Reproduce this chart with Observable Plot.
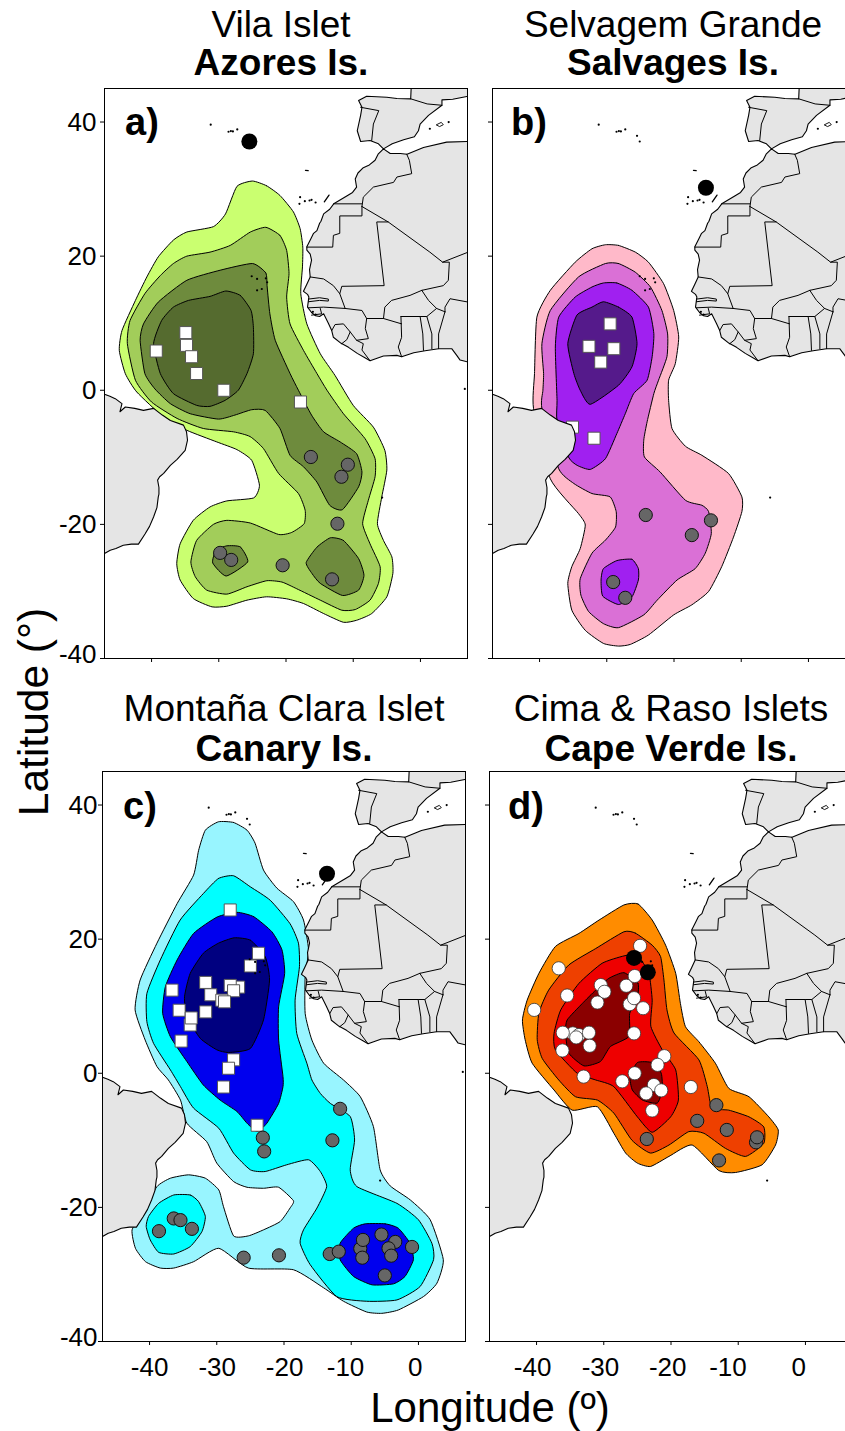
<!DOCTYPE html>
<html>
<head>
<meta charset="utf-8">
<script src="https://cdn.jsdelivr.net/npm/d3@7"></script>
<script src="https://cdn.jsdelivr.net/npm/@observablehq/plot@0.6"></script>
<style>
html,body{margin:0;padding:0;background:#fff;}
body{position:relative;width:845px;height:1431px;overflow:hidden;font-family:"Liberation Sans",Arial,sans-serif;color:#000;}
.t{position:absolute;white-space:nowrap;transform:translateX(-50%);font-size:37px;line-height:40px;}
.b{font-weight:bold;}
.p{position:absolute;font-weight:bold;font-size:38px;line-height:40px;}
svg{position:absolute;max-width:none!important;overflow:visible;}
</style>
</head>
<body>
<div id="root"></div>
<script>
// ---------- Base map (lon, lat) ----------
const africa=[[-5.5,36],[-6.3,35.2],[-6.75,34.3],[-7.6,33.6],[-8.5,33.2],[-9.3,32.4],[-9.7,31.5],[-9.5,30.3],[-10.1,29.5],[-10.9,29],[-12.9,27.8],[-13.5,27],[-14.4,26.3],[-14.8,25.2],[-15,24.9],[-15.4,23.8],[-15.9,23.4],[-16.3,22.6],[-16.9,21.4],[-16.9,20.9],[-16.4,20.3],[-16.2,19.4],[-16.5,18],[-16.4,16.9],[-16.9,15.8],[-17.4,14.75],[-16.8,14.3],[-16.6,13.9],[-16.8,12.4],[-16.2,11.6],[-15.6,11.1],[-15,11],[-14.4,11.4],[-13.7,10],[-13.2,8.9],[-12.95,7.9],[-11.8,7],[-10.7,6.4],[-9.4,5.5],[-8,4.7],[-7.5,4.4],[-5.5,5.1],[-3.5,5.2],[-2.8,5],[-1,5.6],[0.7,5.9],[2.7,6.2],[4.65,6.2],[5.4,5.2],[5.9,4.5],[7.1,4.2],[9,4],[9,38],[7.1,37.1],[3.9,37],[0.45,36.2],[-2,35.2],[-3,35.3],[-4.5,35.3]];
const iberia=[[-1.3,47],[-1.45,43.46],[-3.5,43.5],[-5,43.7],[-8,43.85],[-9.2,43.2],[-8.7,42.2],[-8.9,41],[-9.4,38.7],[-8.9,37.1],[-7.5,37.25],[-6.25,36.75],[-5.5,36],[-4.2,36.75],[-2.5,37.35],[-0.9,37.8],[-0.3,38.7],[-0.05,39.7],[1.2,41],[3.2,42.5],[3.2,43.3],[4.8,43.4],[6.9,43.8],[9,44],[9,47]];
const brazil=[[-49,-0.2],[-47,-0.6],[-46.2,-0.9],[-45.4,-1.25],[-44.4,-2],[-44.7,-3.2],[-43.9,-2.5],[-42.5,-2.7],[-41.2,-3],[-39.7,-2.7],[-38.4,-3.7],[-37.2,-4.5],[-35.25,-5.2],[-34.8,-6.2],[-34.65,-7.45],[-35,-8.95],[-36.2,-10.3],[-37.2,-11.2],[-38.2,-12.4],[-38.8,-12.9],[-39.1,-13.4],[-38.9,-14.5],[-38.9,-15.5],[-39,-15.9],[-39.2,-17.5],[-39.7,-18.9],[-40.3,-20.3],[-40.95,-21.4],[-41.95,-22.95],[-43,-22.95],[-44.2,-23.1],[-45.3,-23.6],[-46.15,-23.85],[-47,-24.35],[-49,-25.5]];
const borders=[
 [[-12.9,27.8],[-8.7,27.8]],
 [[-2.04,35.2],[-1.65,34.3],[-1.3,32.3],[-3.5,31.8],[-4,31],[-7,30.3],[-8.5,28.8],[-8.7,27.4]],
 [[-8.7,27.4],[-8.7,26],[-12,26],[-12,23.4],[-12.95,23.1],[-13.05,21.35],[-16.9,21.35]],
 [[-8.7,27.4],[-4.8,25.1],[1.4,20.6],[3.3,19.1],[7.1,20.6]],
 [[-4.8,25.1],[-6.5,25.1],[-5.4,15.6],[-11.7,15.5],[-12,14.4],[-11.2,12.2]],
 [[-16.4,16.9],[-14.4,16.6],[-12.95,15.6],[-12,14.4]],
 [[-11.2,12.2],[-14.4,12.4],[-16.65,12.3]],
 [[-16.65,13.6],[-15,13.8],[-13.7,13.6],[-13.7,13.3],[-15,13.4],[-16.65,13.2]],
 [[-14.9,12.2],[-14.7,11.4],[-16.2,11.2]],
 [[-11.2,12.2],[-8.7,11.9],[-8,10.7],[-8.2,9.2],[-7.75,7.7],[-9.5,7.45],[-10.45,8.7]],
 [[-13.2,8.9],[-12.7,9.8],[-11.45,9.9],[-10.45,8.7],[-10.95,7.55],[-11.7,6.95]],
 [[-9.5,7.45],[-8.5,6.95],[-8.7,6],[-7.5,4.4]],
 [[-8,10.7],[-5.5,10.7],[-2.8,9.9]],
 [[-5.5,10.7],[-5.3,12.4],[-4.3,13.4],[-1.55,14.15],[0.2,14.9]],
 [[-2.9,11],[-2.8,7.9],[-3.3,6.45],[-2.8,5]],
 [[-2.9,11],[-0.05,11],[0.95,11],[2.4,12.2],[3.65,11.7]],
 [[-0.05,11],[0.35,8.4],[0.45,5.95]],
 [[0.95,11],[1.7,8.4],[1.7,6.2]],
 [[0.2,14.9],[1.2,13.4],[2.4,12.2]],
 [[3.3,19.1],[4.3,19.1],[4.15,16.4],[3.4,15.6],[0.2,14.9]],
 [[3.65,11.7],[2.7,8.4],[2.7,6.2]],
 [[3.65,11.7],[3.65,12.4],[4.4,13.65],[7.1,13.15]],
 [[-8.9,42.2],[-6.2,41.7],[-7,39.7],[-7.25,37.25]],
 [[-1.45,43.46],[1,42.7],[3.2,42.5]]
];
const mallorca=[[2.4,39.6],[3.1,39.95],[3.4,39.6],[2.9,39.35]];
const fuerteventura=[[-14.3,28.1],[-13.6,29.1]];
const madeira=[[-17.1,32.8],[-16.7,32.75]];
const islands=[[-31.2,39.6],[-28.55,38.55],[-28.2,38.65],[-27.9,38.6],[-27.25,38.9],[-25.5,37.95],[-25.1,37.1],[-17.9,28.8],[-18,27.8],[-17.2,28.2],[-16.5,28.3],[-16.2,28.4],[-15.6,28],[-25.1,17],[-24.3,16.6],[-22.8,16.1],[-24.3,14.9],[-23.6,15.1],[-23,16.7],[-5.7,-16],[6.6,0.2],[1.4,39],[4.2,40],[-16,11.7],[-15.6,11.3]];

// ---------- a) Vila Islet ----------
const a1=[[-25,31.2],[-22.9,30.5],[-20.9,29.05],[-18.9,26.6],[-17.9,24.1],[-17.5,21.35],[-17.55,18.4],[-17.8,14.4],[-16.9,9.9],[-14.9,5.45],[-12.7,2.2],[-10,-2.25],[-7,-5.5],[-5.3,-8.95],[-5,-11.9],[-5.75,-15.9],[-6.4,-19.9],[-5.5,-22.4],[-4.25,-24.85],[-4.1,-27.3],[-5,-30.8],[-7.25,-33.3],[-9.5,-34.3],[-11.45,-34.6],[-14.4,-33.3],[-17.4,-31.8],[-19.9,-31.1],[-22.9,-30.8],[-25.8,-31.3],[-28.8,-32.2],[-31,-32.3],[-33.8,-31.05],[-35.75,-28.3],[-36.25,-25.85],[-35.75,-22.9],[-33.8,-19.4],[-31.3,-17.4],[-28.8,-16.5],[-24.8,-16.05],[-23.95,-14.15],[-25.1,-10.45],[-27.3,-8.85],[-30.3,-7.7],[-34.75,-5.97],[-38.2,-4],[-42.2,-0.26],[-43.9,2.47],[-44.8,5.95],[-44.4,8.9],[-42.4,13.4],[-40.7,16.9],[-39,19.9],[-36.75,22.4],[-34.75,23.6],[-30.8,24.4],[-29,26.3],[-27.3,30.4]];
const a2=[[-23,24.3],[-20.9,23.1],[-19.9,20.85],[-19.55,17.4],[-19.9,13.9],[-19.4,9.9],[-17.4,5.95],[-15.4,2.5],[-13.9,0],[-11.45,-3.5],[-8.25,-7.2],[-6.75,-10.2],[-6.75,-12.9],[-7.75,-16.4],[-8.6,-19.9],[-7.5,-22.9],[-6,-26.3],[-6.25,-28.8],[-7.5,-31.3],[-9.7,-32.7],[-11.7,-32.8],[-14.9,-31.3],[-18.4,-29.6],[-20.6,-28.6],[-22.85,-28.4],[-25.8,-29.3],[-28.8,-30.4],[-31.8,-29.8],[-33.5,-27.8],[-34.15,-25.6],[-33.3,-22.4],[-30.8,-20],[-28.8,-19.4],[-25.3,-19.8],[-21.1,-21.5],[-19.15,-21.2],[-17.3,-19.9],[-17.15,-17.9],[-18.15,-15.4],[-21.1,-12.4],[-23.35,-8.7],[-25.35,-6.9],[-27.8,-6.2],[-32.3,-5.7],[-36.2,-4.2],[-40,-1.75],[-42.4,1.5],[-43.6,6.95],[-43.2,10.4],[-41,14.4],[-38.7,17.1],[-36.75,18.9],[-34.75,20],[-31.3,20.6],[-28.3,21.6],[-25.3,23.6]];
const a3=[[-25,18.9],[-23,17.5],[-22.8,15.4],[-22.4,11.4],[-21.6,7.45],[-19.4,2.5],[-18.15,0],[-16.2,-3.7],[-14.4,-6.2],[-11.95,-7.7],[-9.5,-9.45],[-8.7,-12.2],[-9.2,-14.4],[-11.6,-17.8],[-13.5,-17.15],[-15.4,-13.7],[-17.4,-11.4],[-19.4,-9.7],[-20.9,-5.7],[-23.1,-3],[-25.1,-2.9],[-27.6,-3.7],[-30.05,-4.3],[-34.25,-3.5],[-37.2,-2],[-39.5,0.2],[-41,2.5],[-41.7,7.45],[-41.2,9.9],[-39,13.15],[-34.75,16.4],[-29.8,17.9]];
const a3b=[[-28.8,-23.2],[-26.8,-23.35],[-25.7,-25.6],[-28.9,-27.7],[-30.9,-25.75],[-30.4,-23.85]];
const a3c=[[-13.4,-22],[-11.45,-22.4],[-9.2,-25.1],[-8.4,-27.6],[-9.2,-29.8],[-11.6,-30.6],[-14.9,-28.8],[-16.15,-27.3],[-17,-25.7],[-15.4,-23.4]];
const a4=[[-28.95,14.8],[-26.8,14.15],[-25.2,11.9],[-24.85,9.4],[-24.85,5.45],[-25.8,2.5],[-27.1,0],[-29.05,-1.5],[-31.3,-2.4],[-33.3,-2.25],[-36.75,-0.5],[-38.7,2.5],[-39.7,6.95],[-38.5,10.4],[-36.75,12.4],[-34.5,13.4],[-31.3,14]];
const aSquares=[[-34.9,8.6],[-34.8,6.7],[-39.3,5.85],[-34.05,5],[-33.3,2.5],[-29.25,0],[-17.85,-1.75]];
const aCircles=[[-16.3,-9.95],[-10.8,-11.1],[-11.75,-12.9],[-12.35,-19.9],[-29.8,-24.25],[-28.15,-25.3],[-20.5,-26.1],[-13.15,-28.2]];
const aColony=[[-25.45,37.1]];

// ---------- b) Selvagem Grande ----------
const b1=[[-30.2,21.7],[-28.25,21.6],[-25.75,20.6],[-23.8,19.1],[-21.55,15.9],[-20.05,11.9],[-19.3,7.95],[-19.8,4],[-20.8,1.5],[-20.8,-1.5],[-20.3,-5.7],[-18.3,-8.35],[-15.85,-9.7],[-11.9,-12.4],[-9.9,-15.9],[-9.9,-18.1],[-11.15,-21.9],[-12.9,-26.3],[-14.85,-30],[-17.35,-32],[-20.05,-33.5],[-23.8,-36.5],[-26.5,-37.9],[-28.25,-38.15],[-30.5,-37.75],[-33.2,-35.8],[-35.2,-32.8],[-35.8,-28.8],[-35.2,-26.3],[-33.95,-23.6],[-33.2,-20.1],[-34.2,-18.4],[-38.4,-13.2],[-40.9,-2.7],[-40.75,2.5],[-40.4,10.9],[-38.4,14.9],[-34.7,19.1],[-32.2,21.1]];
const b2=[[-30.2,18.9],[-28.25,18.9],[-25.75,17.6],[-23.5,15.4],[-21.8,11.9],[-20.95,8.4],[-21.05,5],[-22.3,1.5],[-23,-0.5],[-24,-4.7],[-24.5,-7.45],[-24.4,-9.95],[-22.05,-12.2],[-18.3,-16.4],[-15.85,-17.15],[-14.85,-18.1],[-14.45,-21.35],[-15.35,-24.3],[-16.85,-26.6],[-19.55,-28.3],[-22.5,-31.3],[-24.5,-33.5],[-28.25,-35.4],[-30.5,-34.8],[-32.7,-33],[-33.85,-30.55],[-33.95,-28.1],[-32.2,-24.3],[-30.2,-22.35],[-28.7,-20.4],[-28.6,-18.1],[-29.5,-15.9],[-32.2,-15.4],[-34.9,-13.9],[-37.15,-11.7],[-39.65,-2.7],[-39.5,0],[-39.4,2.5],[-39.65,6.95],[-38.4,11.9],[-34.2,16.9]];
const b3=[[-30.5,16],[-28.5,16],[-26.25,14.9],[-23.8,12.4],[-23,8.45],[-23.25,5],[-24,1.5],[-26,-0.5],[-27.25,-3.5],[-28.5,-6.45],[-30.2,-10.2],[-32.45,-11.8],[-34.4,-11.2],[-35.7,-9.95],[-37.4,-4.5],[-37.4,-1.5],[-37.65,6.45],[-37.15,10.9],[-34.7,13.9],[-32.2,15.4]];
const b3b=[[-28.5,-25.4],[-26.25,-25.2],[-25.3,-26.6],[-25.3,-28.3],[-26.25,-30.8],[-28.25,-31.95],[-30.6,-30.7],[-30.85,-28.3],[-30.5,-26.6]];
const b4=[[-30.5,13.2],[-28.25,12.4],[-26.25,10.9],[-25.5,6.95],[-26.25,3.5],[-28.25,0.75],[-32.45,-2.1],[-33.95,0],[-34.9,2.5],[-35.8,6.95],[-34.45,11.2],[-32.2,12.4]];
const bSquares=[[-29.5,9.9],[-32.65,6.55],[-28.95,6.2],[-30.9,4.2],[-35.1,-5.5],[-31.9,-7.15]];
const bCircles=[[-24.2,-18.6],[-17.35,-21.6],[-14.5,-19.4],[-29.05,-28.6],[-27.25,-30.95]];
const bColony=[[-15.25,30.2]];

// ---------- c) Montaña Clara Islet ----------
const c1=[[-29.75,37.5],[-27.5,37.4],[-25.5,36.25],[-24.3,34.3],[-23.05,30.3],[-21.05,27.6],[-18.6,25.6],[-17.1,22.85],[-16.35,18.4],[-16.85,14.4],[-16.85,8.9],[-15.85,4.95],[-14.1,1.5],[-11.15,-1],[-8.65,-3.5],[-6.7,-7.95],[-5.7,-14.4],[-4.2,-16.8],[-1.2,-18.9],[1.75,-21.85],[3.7,-27.8],[2.75,-31.3],[0.75,-33.3],[-3,-35.3],[-5.45,-35.8],[-7.7,-35.6],[-11.15,-34],[-14.1,-32],[-18.6,-29.3],[-25.3,-29.05],[-29.7,-26.1],[-33.45,-28.1],[-36.4,-29.05],[-38.4,-29.05],[-40.6,-28.1],[-42.1,-26.1],[-42.6,-23.35],[-40.9,-20.6],[-38.9,-16.9],[-36.9,-15.65],[-34.2,-15.15],[-31.7,-15.65],[-29.7,-17.4],[-29,-19.9],[-27.5,-24.25],[-25.3,-24.25],[-23.05,-23.35],[-20.55,-22.1],[-19.1,-20.1],[-18.6,-19],[-20.8,-17],[-23.05,-17.15],[-25.5,-17],[-27.5,-16.15],[-30,-13.4],[-31.5,-10.2],[-34.45,-7.45],[-35.4,-4],[-37.2,-1],[-38.9,1],[-40.65,4.95],[-42.15,9.45],[-41.4,13.9],[-38.9,19.4],[-35.9,25.3],[-33.45,29.55],[-32.7,33.25],[-31.7,36.25]];
const c2=[[-27.5,29.45],[-29.75,29.05],[-32,26.8],[-35.45,22.85],[-38.4,16.9],[-40.4,11.9],[-40.4,7.7],[-39.4,4.45],[-36.9,0.5],[-35.4,-2],[-33.45,-5.2],[-29.7,-8.2],[-27.5,-11.9],[-25,-14.4],[-22.8,-14.65],[-19.6,-13.65],[-16.35,-12.9],[-14.6,-14.65],[-13.65,-16.9],[-15.1,-20.1],[-17.1,-23.35],[-17.6,-25.35],[-16.1,-28.55],[-12.15,-33.3],[-7.7,-34],[-3.2,-33.8],[0.25,-31.8],[2.25,-27.8],[2,-25.35],[0,-21.85],[-3.2,-19.4],[-9.15,-16.9],[-10.15,-14.4],[-9.5,-9.95],[-10.15,-6.45],[-13.1,-4.5],[-14.6,-3],[-15.85,-1],[-16.6,1.5],[-18.1,5.95],[-18.35,10.9],[-17.7,15.9],[-17.85,19.4],[-19.1,22.3],[-22.05,25.8],[-25,27.8]];
const c2b=[[-36.4,-18.15],[-33.95,-18.15],[-32.7,-19.15],[-31.7,-21.35],[-32.2,-23.6],[-33.95,-25.85],[-36.4,-26.95],[-38.65,-26.7],[-39.9,-24.85],[-40.5,-22.85],[-40.15,-21.35],[-38.65,-19.4]];
const c3=[[-27,24],[-24.5,23.35],[-21.8,21.1],[-20.3,18.4],[-19.9,14.9],[-20.8,9.9],[-20.8,4.95],[-20.15,-0.5],[-20.15,-2],[-20.8,-4.5],[-22.55,-7.45],[-24,-8.7],[-25.5,-7.45],[-27,-5.7],[-29.5,-4],[-32,-1.75],[-34.45,1.75],[-36.9,5.45],[-38.05,8.95],[-37.65,12.9],[-35.9,16.9],[-33.45,20.85],[-29.95,23.3]];
const c3b=[[-7.9,-22.45],[-4.95,-22.45],[-3,-23.1],[-1.25,-25.35],[-0.75,-27.8],[-2,-30.3],[-3.7,-31.4],[-6.9,-31.55],[-9.65,-30.3],[-11.65,-27.8],[-11.65,-25.35],[-9.65,-23.1]];
const c4=[[-27.4,20.2],[-25,19.85],[-22.8,17.4],[-22.15,13.9],[-23.05,7.95],[-25,3.7],[-28.25,3.1],[-30,3.5],[-32.45,5.2],[-34.45,8.45],[-34.8,11.4],[-33.95,14.9],[-32,17.9],[-29.75,19.4]];
const cSquares=[[-28,24.35],[-25,16],[-23.8,17.9],[-31.65,13.55],[-36.65,12.4],[-26.75,12.85],[-28,13.1],[-27.5,12.3],[-30.9,11.7],[-29.25,10.9],[-28.85,10.65],[-31.65,9.15],[-33.95,7.2],[-35.6,9.4],[-33.8,8.25],[-35.3,4.8],[-27.5,2],[-28.25,0.75],[-29,-2.05],[-24,-7.75]];
const cCircles=[[-23.15,-9.6],[-22.95,-11.65],[-11.65,-5.3],[-12.8,-10],[-36.4,-21.65],[-35.4,-21.9],[-33.7,-23.2],[-38.6,-23.55],[-26,-27.5],[-20.75,-27.15],[-13.2,-26.95],[-11.85,-26.6],[-8.65,-26.15],[-8.25,-24.85],[-8.35,-27.5],[-5.5,-24.05],[-3.45,-25.15],[-4.45,-26.1],[-4.05,-27.2],[-0.95,-25.9],[-5,-30.15]];
const cColony=[[-13.6,29.75]];

// ---------- d) Cima & Raso Islets ----------
const d1=[[-27,25.1],[-24.9,25.25],[-22.8,22.85],[-20.8,19.1],[-19.3,14.9],[-18.6,10.4],[-17.85,6.95],[-15.85,4.7],[-13.4,1.5],[-11.4,-2.25],[-8.4,-3.5],[-5.45,-6.5],[-4.05,-8.45],[-4.45,-10.7],[-6.45,-13.65],[-10.4,-14.8],[-12.9,-14.5],[-16.85,-10.7],[-20.3,-12.4],[-23.05,-13.9],[-25,-13.4],[-26.75,-11.9],[-28.5,-8.95],[-30.95,-5],[-34.7,-5.5],[-37.4,-2.5],[-40.65,1.5],[-41.7,5],[-42.1,7.95],[-41.4,10.9],[-39.65,14.9],[-37.2,18.9],[-33.7,20.85],[-30.7,22.85]];
const d2=[[-27,21.1],[-25.3,20.9],[-22.8,19.1],[-21.55,17.4],[-21.05,13.9],[-20.6,9.45],[-19.55,6],[-15.85,2],[-14.6,-2],[-13.9,-5.2],[-11.4,-5.5],[-8.4,-6.5],[-6.2,-8],[-6.2,-10.45],[-8.9,-12.4],[-11.9,-11.2],[-15.1,-8.95],[-17.35,-8.7],[-20.3,-10.7],[-23.05,-11.9],[-25.8,-10],[-28.5,-5.95],[-30.95,-4],[-34.2,-3.5],[-36.7,-1],[-39.15,2.2],[-39.9,5],[-39.65,9],[-38.2,12.4],[-35.2,16.15],[-31.2,18.6]];
const d3=[[-27,17.5],[-25,17.6],[-23.3,14.9],[-22.8,10.9],[-23,7],[-21.3,3.5],[-19.3,0.5],[-18.9,-4],[-20.05,-6.5],[-22.8,-8.8],[-25,-6.5],[-28.5,-2],[-31.2,-1],[-33.95,0],[-37.2,3.5],[-37.4,5.95],[-36.4,9.45],[-33.7,13.4],[-30.25,16.4]];
const d4=[[-27,15],[-24.9,13.4],[-25,11.4],[-26.15,8.9],[-26.25,5.5],[-29,4],[-30.5,1.75],[-32.95,1.1],[-35.2,3],[-35.7,6],[-35.45,7.95],[-33.2,10.4],[-31.2,12.4],[-29.25,14.15]];
const d4b=[[-25,1.6],[-22.8,1.6],[-21.45,0],[-21.3,-2.5],[-22.05,-4.45],[-24.25,-4],[-25.75,-2.5],[-26.1,-0.5]];
const dWhite=[[-24.6,19],[-36.7,15.65],[-40.35,9.45],[-35.45,11.6],[-30.45,13.15],[-29.9,12.15],[-30.95,10.55],[-26.65,13.05],[-25.4,14.5],[-26.15,10.3],[-25.5,11.2],[-24.15,9.7],[-34.6,5.95],[-33.7,5.7],[-36.1,6.05],[-32.2,6.05],[-34.1,5.35],[-32.1,4.1],[-36.15,3.4],[-25.5,5.95],[-21,2.55],[-22,1.25],[-33,-0.5],[-25.4,0],[-27.25,-1.2],[-22.55,-1.75],[-21.45,-2.55],[-23.7,-3],[-17.05,-2.05],[-22.8,-5.55]];
const dCircles=[[-13.25,-4.75],[-16.1,-7.1],[-11.7,-8.45],[-7.35,-10.3],[-7.2,-9.55],[-23.6,-9.8],[-12.85,-13]];
const dColony=[[-25.5,17.2],[-23.45,15.05]];

// ---------- Colours, ticks ----------
const aColors=["#caff70","#a2cd5a","#6e8b3d","#556b2f"];
const bColors=["#ffb9c9","#da70d6","#a020f0","#551a8b"];
const cColors=["#98f5ff","#00ffff","#0000ee","#000080"];
const dColors=["#ff8c00","#ee4000","#ee0000","#8b0000"];
const landColor="#e5e5e5";
const xTicks=[-40,-30,-20,-10,0];
const yTicks=[40,20,0,-20,-40];

const ML=60,MT=1,MR=2,MB=60,FW=363,FH=570;
const X=d=>d[0],Y=d=>d[1];

function panel(o){
  const poly=(data,fill)=>Plot.line(data,{x:X,y:Y,fill,stroke:"#000",strokeWidth:1,curve:"cardinal-closed",tension:0.45,clip:true});
  const marks=[];
  o.contours.forEach(([data,level])=>marks.push(poly(data,o.colors[level])));
  if(o.squares) marks.push(Plot.dot(o.squares,{x:X,y:Y,symbol:"square",r:6.8,fill:"#fff",stroke:"#555",strokeWidth:1}));
  if(o.whites) marks.push(Plot.dot(o.whites,{x:X,y:Y,r:6.6,fill:"#fff",stroke:"#333",strokeWidth:0.8}));
  if(o.circles) marks.push(Plot.dot(o.circles,{x:X,y:Y,r:6.6,fill:"#666",stroke:"#111",strokeWidth:1}));
  marks.push(Plot.dot(o.colony,{x:X,y:Y,r:8,fill:"#000"}));
  [africa,iberia,brazil].forEach(l=>marks.push(Plot.line(l,{x:X,y:Y,fill:landColor,stroke:"#000",strokeWidth:1.1,curve:"linear-closed",clip:true})));
  borders.forEach(l=>marks.push(Plot.line(l,{x:X,y:Y,stroke:"#000",strokeWidth:1,clip:true})));
  marks.push(Plot.line(mallorca,{x:X,y:Y,fill:"#fff",stroke:"#000",strokeWidth:0.9,curve:"linear-closed",clip:true}));
  [fuerteventura,madeira].forEach(l=>marks.push(Plot.line(l,{x:X,y:Y,stroke:"#000",strokeWidth:1.3,clip:true})));
  marks.push(Plot.dot(islands,{x:X,y:Y,r:1.1,fill:"#000",clip:true}));
  marks.push(Plot.frame({stroke:"#000",strokeWidth:1}));
  marks.push(Plot.axisX({ticks:xTicks,tickSize:4,tickFormat:()=>"",label:null,anchor:"bottom"}));
  marks.push(Plot.axisY({ticks:yTicks,tickSize:4,tickFormat:()=>"",label:null,anchor:"left"}));
  if(o.xLabels) xTicks.forEach((t,i)=>marks.push(Plot.axisX([t],{anchor:"bottom",tickSize:0,tickPadding:16,fontSize:26,label:null,tickFormat:String,dx:o.xLabels[i]})));
  if(o.yLabels) yTicks.forEach(t=>marks.push(Plot.axisY([t],{anchor:"left",tickSize:0,tickPadding:o.yPad,fontSize:26,label:null,tickFormat:String,dy:t===-40?-4:0.5})));
  const svg=Plot.plot({
    width:ML+FW+MR,height:MT+FH+MB,marginLeft:ML,marginTop:MT,marginRight:MR,marginBottom:MB,
    x:{domain:[-47,7],axis:null},y:{domain:[-40,45],axis:null},
    style:{background:"transparent",fontFamily:"'Liberation Sans',Arial,sans-serif",color:"#000",maxWidth:"none",overflow:"visible"},
    marks
  });
  svg.style.left=(o.left-ML)+"px";
  svg.style.top=(o.top-MT)+"px";
  document.getElementById("root").appendChild(svg);
}

panel({left:104,top:88,colors:aColors,contours:[[a1,0],[a2,1],[a3,2],[a3b,2],[a3c,2],[a4,3]],squares:aSquares,circles:aCircles,colony:aColony,yLabels:true,yPad:8});
panel({left:492,top:88,colors:bColors,contours:[[b1,0],[b2,1],[b3,2],[b3b,2],[b4,3]],squares:bSquares,circles:bCircles,colony:bColony});
panel({left:102,top:771,colors:cColors,contours:[[c1,0],[c2,1],[c2b,1],[c3,2],[c3b,2],[c4,3]],squares:cSquares,circles:cCircles,colony:cColony,yLabels:true,yPad:5,xLabels:[0,0.4,0.6,-5.7,-3.3]});
panel({left:489,top:771,colors:dColors,contours:[[d1,0],[d2,1],[d3,2],[d4,3],[d4b,3]],whites:dWhite,circles:dCircles,colony:dColony,xLabels:[-4,-3.3,-3.3,-10.3,-6.7]});

// ---------- Text ----------
const titles=[
 ["Vila Islet",281,5,false],["Azores Is.",281,43,true],
 ["Selvagem Grande",673,5,false],["Salvages Is.",673,43,true],
 ["Montaña Clara Islet",284,689,false],["Canary Is.",284,729,true],
 ["Cima & Raso Islets",671,689,false],["Cape Verde Is.",671,729,true]
];
const panelTags=[["a)",125,102],["b)",511,102],["c)",123,786],["d)",508,786]];
const root=document.getElementById("root");
titles.forEach(([s,x,y,b])=>{
  const e=document.createElement("div");
  e.className="t"+(b?" b":"");e.textContent=s;e.style.left=x+"px";e.style.top=y+"px";root.appendChild(e);
});
panelTags.forEach(([s,x,y])=>{
  const e=document.createElement("div");
  e.className="p";e.textContent=s;e.style.left=x+"px";e.style.top=y+"px";root.appendChild(e);
});
const xt=document.createElement("div");
xt.textContent="Longitude (º)";
xt.style.cssText="position:absolute;left:490px;top:1391px;transform:translateX(-50%);font-size:42px;line-height:34px;white-space:nowrap;";
root.appendChild(xt);
const yt=document.createElement("div");
yt.textContent="Latitude (°)";
yt.style.cssText="position:absolute;left:34px;top:712px;transform:translate(-50%,-50%) rotate(-90deg);font-size:42.5px;line-height:48px;white-space:nowrap;";
root.appendChild(yt);
</script>
</body>
</html>
